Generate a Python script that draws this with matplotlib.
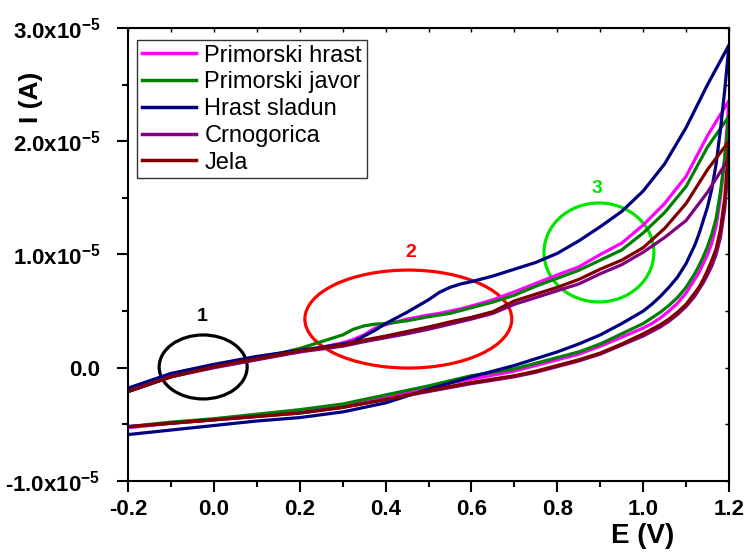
import matplotlib
matplotlib.use("Agg")
import matplotlib.pyplot as plt
from matplotlib.patches import Ellipse
from matplotlib.ticker import MultipleLocator, FixedLocator, FixedFormatter

plt.rcParams['font.family'] = ['Liberation Sans', 'DejaVu Sans']
plt.rcParams['mathtext.fontset'] = 'custom'
plt.rcParams['mathtext.rm'] = 'Liberation Sans:bold'
plt.rcParams['mathtext.bf'] = 'Liberation Sans:bold'
plt.rcParams['mathtext.it'] = 'Liberation Sans:bold'

SCALE = 1e-5

# ---------------- data (currents in units of 1e-5 A) ----------------
labels = ["Primorski hrast", "Primorski javor", "Hrast sladun", "Crnogorica", "Jela"]
colors = ["#FF00FF", "#008000", "#000080", "#800080", "#800000"]

E_fwd = [-0.2, -0.1, 0.0, 0.1, 0.2, 0.25, 0.3, 0.325, 0.35, 0.375, 0.4, 0.45, 0.5, 0.525,
         0.55, 0.575, 0.6, 0.65, 0.7, 0.75, 0.8, 0.85, 0.9, 0.95, 1.0, 1.05, 1.1, 1.15, 1.2]
hrast_fwd = [-0.21, -0.08, 0.01, 0.08, 0.14, 0.18, 0.22, 0.25, 0.29, 0.35, 0.38, 0.43, 0.465, 0.48,
             0.5, 0.52, 0.545, 0.6, 0.67, 0.745, 0.82, 0.89, 1.0, 1.1, 1.26, 1.45, 1.69, 2.05, 2.36]
javor_fwd = [-0.21, -0.08, 0.01, 0.08, 0.17, 0.23, 0.29, 0.34, 0.37, 0.385, 0.39, 0.415, 0.45, 0.465,
             0.48, 0.505, 0.53, 0.58, 0.64, 0.72, 0.79, 0.86, 0.95, 1.04, 1.19, 1.37, 1.6, 1.95, 2.22]
sladun_fwd = [-0.18, -0.05, 0.03, 0.1, 0.155, 0.18, 0.21, 0.23, 0.28, 0.33, 0.39, 0.49, 0.6, 0.665,
              0.71, 0.74, 0.76, 0.81, 0.87, 0.93, 1.01, 1.12, 1.245, 1.38, 1.56, 1.8, 2.12, 2.5, 2.85]
crno_fwd = [-0.21, -0.08, 0.0, 0.07, 0.14, 0.165, 0.19, 0.21, 0.23, 0.248, 0.265, 0.3, 0.34, 0.362,
            0.385, 0.407, 0.43, 0.48, 0.56, 0.62, 0.68, 0.74, 0.83, 0.91, 1.02, 1.15, 1.3, 1.55, 1.85]
jela_fwd = [-0.21, -0.08, 0.01, 0.08, 0.15, 0.175, 0.2, 0.222, 0.245, 0.262, 0.28, 0.32, 0.36, 0.382,
            0.405, 0.425, 0.445, 0.495, 0.59, 0.65, 0.71, 0.78, 0.87, 0.95, 1.06, 1.23, 1.45, 1.75, 2.0]

E_rev = [1.2, 1.19, 1.18, 1.17, 1.16, 1.15, 1.14, 1.13, 1.12, 1.1, 1.08, 1.06, 1.04, 1.02,
         1.0, 0.95, 0.9, 0.85, 0.8, 0.75, 0.7, 0.6, 0.5, 0.4, 0.3, 0.2, 0.1, 0.0, -0.1, -0.2]
hrast_rev = [2.36, 1.85, 1.5, 1.25, 1.1, 1.0, 0.92, 0.84, 0.78, 0.66, 0.57, 0.5, 0.44, 0.39,
             0.35, 0.27, 0.19, 0.12, 0.07, 0.02, -0.03, -0.1, -0.17, -0.26, -0.34, -0.39, -0.43, -0.46, -0.49, -0.53]
javor_rev = [2.22, 1.85, 1.55, 1.32, 1.18, 1.07, 0.98, 0.9, 0.83, 0.71, 0.62, 0.55, 0.49, 0.44,
             0.39, 0.3, 0.21, 0.14, 0.09, 0.04, -0.01, -0.07, -0.16, -0.24, -0.32, -0.37, -0.41, -0.45, -0.48, -0.52]
sladun_rev = [2.85, 2.45, 2.1, 1.8, 1.58, 1.42, 1.3, 1.18, 1.08, 0.92, 0.8, 0.71, 0.63, 0.56,
              0.5, 0.39, 0.29, 0.21, 0.14, 0.08, 0.02, -0.08, -0.19, -0.31, -0.39, -0.44, -0.47, -0.51, -0.55, -0.59]
crno_rev = [1.85, 1.4, 1.15, 1.0, 0.9, 0.82, 0.75, 0.69, 0.63, 0.54, 0.47, 0.41, 0.36, 0.32,
            0.28, 0.2, 0.12, 0.06, 0.01, -0.04, -0.08, -0.14, -0.21, -0.28, -0.35, -0.4, -0.43, -0.46, -0.49, -0.52]
jela_rev = [2.0, 1.5, 1.22, 1.05, 0.95, 0.86, 0.78, 0.71, 0.66, 0.56, 0.49, 0.43, 0.38, 0.34,
            0.3, 0.21, 0.13, 0.07, 0.02, -0.03, -0.07, -0.13, -0.2, -0.28, -0.35, -0.4, -0.43, -0.46, -0.49, -0.52]

fwd = [hrast_fwd, javor_fwd, sladun_fwd, crno_fwd, jela_fwd]
rev = [hrast_rev, javor_rev, sladun_rev, crno_rev, jela_rev]

y_ticks = [-1.0, 0.0, 1.0, 2.0, 3.0]
y_ticklabels = [r"-1.0x10$^{-5}$", "0.0", r"1.0x10$^{-5}$", r"2.0x10$^{-5}$", r"3.0x10$^{-5}$"]
x_ticks = [-0.2, 0.0, 0.2, 0.4, 0.6, 0.8, 1.0, 1.2]

# ---------------- figure ----------------
fig = plt.figure(figsize=(7.5, 5.52), dpi=100)
ax = fig.add_axes([0.1707, 0.1286, 0.8013, 0.8207])

handles = []
for lab, col, f, r in zip(labels, colors, fwd, rev):
    E = E_fwd + E_rev
    I = [v * SCALE for v in f + r]
    h, = ax.plot(E, I, color=col, lw=2.3, label=lab, solid_joinstyle='round')
    handles.append(h)

ax.set_xlim(-0.2, 1.2)
ax.set_ylim(-1e-5, 3e-5)
ax.xaxis.set_major_locator(FixedLocator(x_ticks))
ax.xaxis.set_minor_locator(MultipleLocator(0.1))
ax.yaxis.set_major_locator(FixedLocator([v * SCALE for v in y_ticks]))
ax.yaxis.set_major_formatter(FixedFormatter(y_ticklabels))
ax.yaxis.set_minor_locator(MultipleLocator(0.5e-5))
ax.set_xticklabels([f"{v:.1f}" for v in x_ticks])

for s in ax.spines.values():
    s.set_linewidth(1.5)

ax.tick_params(which='major', direction='out', length=8, width=1.5, labelsize=16, pad=5)
ax.tick_params(which='minor', direction='out', length=4, width=1.5)
ax.tick_params(axis='y', which='major', pad=12)
for t in ax.get_xticklabels() + ax.get_yticklabels():
    t.set_fontweight('bold')

# top and right inward ticks
sx = ax.secondary_xaxis('top')
sx.xaxis.set_major_locator(MultipleLocator(0.1))
sx.tick_params(direction='in', length=3, width=1, labeltop=False)
sy = ax.secondary_yaxis('right')
sy.yaxis.set_major_locator(MultipleLocator(0.5e-5))
sy.tick_params(direction='in', length=3, width=1, labelright=False)

ax.set_xlabel("E (V)", fontsize=20, fontweight='bold')
ax.xaxis.set_label_coords(0.857, -0.093)
ax.set_ylabel("I (A)", fontsize=19, fontweight='bold')
ax.yaxis.set_label_coords(-0.141, 0.848)

leg = ax.legend(handles=handles, loc='upper left', bbox_to_anchor=(0.015, 0.9735),
                borderaxespad=0, fontsize=17, frameon=True, fancybox=False,
                edgecolor='black', handlelength=2.3, handletextpad=0.35,
                labelspacing=0.2, borderpad=0.2)
leg.get_frame().set_linewidth(1.0)
for lh in leg.get_lines():
    lh.set_linewidth(2.5)

# annotation ellipses
ell = [(-0.025, 0.007, 0.205, 0.565, 'black', '1', -0.028, 0.45),
       (0.453, 0.43, 0.482, 0.865, '#FF0000', '2', 0.459, 1.02),
       (0.897, 1.018, 0.256, 0.874, '#00E600', '3', 0.892, 1.58)]
for cx, cy, w, hgt, col, txt, tx, ty in ell:
    ax.add_patch(Ellipse((cx, cy * SCALE), w, hgt * SCALE, fill=False, edgecolor=col, lw=2.3))
    ax.text(tx, ty * SCALE, txt, color=col, fontsize=14, fontweight='bold', ha='center', va='center')

fig.savefig("out.png", dpi=100)
